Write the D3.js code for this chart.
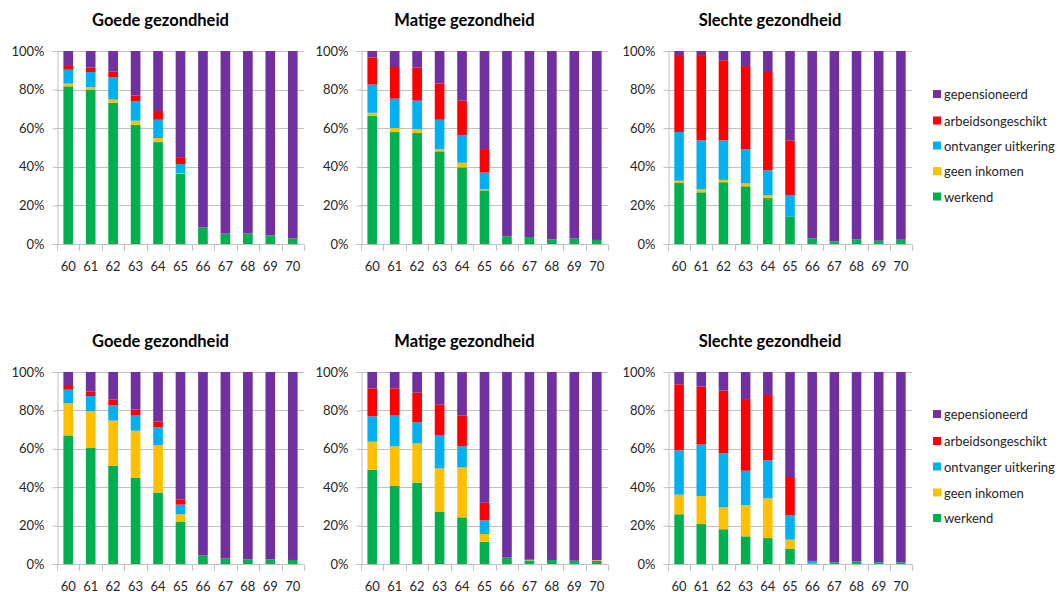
<!DOCTYPE html>
<html>
<head>
<meta charset="utf-8">
<script src="https://cdn.jsdelivr.net/npm/d3@7"></script>
<style>
  html, body { margin: 0; padding: 0; background: #ffffff; }
  svg { display: block; font-family: Carlito, Lato, "Open Sans", sans-serif; }
</style>
</head>
<body>
<svg id="chart" width="1063" height="592"></svg>
<script>
// Leeftijden op de x-as
const ages = ["60", "61", "62", "63", "64", "65", "66", "67", "68", "69", "70"];

// Reeksen, van onder naar boven gestapeld
const seriesNames = ["werkend", "geen inkomen", "ontvanger uitkering", "arbeidsongeschikt", "gepensioneerd"];
const seriesColors = ["#00B050", "#FFC000", "#00B0F0", "#FF0000", "#7030A0"];

const panelTitles = ["Goede gezondheid", "Matige gezondheid", "Slechte gezondheid"];
const yTicks = [0, 20, 40, 60, 80, 100];

// Percentages per reeks (werkend, geen inkomen, uitkering, arbeidsongeschikt, gepensioneerd)
const goedeBoven = [
  [81.7, 80.0, 73.2, 61.8, 52.8, 36.3, 8.6, 5.4, 5.4, 4.5, 2.9],
  [1.4, 1.3, 1.6, 2.1, 2.1, 0.3, 0, 0, 0, 0, 0],
  [7.2, 7.8, 11.6, 10.0, 9.5, 4.8, 0, 0, 0, 0, 0],
  [2.4, 2.3, 2.9, 3.1, 4.5, 3.6, 0, 0, 0, 0, 0],
  [7.3, 8.6, 10.7, 23.0, 31.1, 55.0, 91.4, 94.6, 94.6, 95.5, 97.1]
];
const matigeBoven = [
  [66.3, 58.0, 57.5, 48.0, 39.7, 27.8, 4.0, 3.6, 2.4, 2.8, 2.1],
  [1.7, 2.1, 2.1, 1.2, 2.4, 0.5, 0, 0, 0, 0, 0],
  [14.6, 15.2, 14.7, 15.2, 14.4, 8.7, 0, 0, 0, 0, 0],
  [14.1, 16.4, 17.1, 18.8, 17.8, 12.2, 0, 0, 0, 0, 0],
  [3.3, 8.3, 8.6, 16.8, 25.7, 50.8, 96.0, 96.4, 97.6, 97.2, 97.9]
];
const slechteBoven = [
  [31.6, 26.8, 32.0, 29.9, 23.8, 14.3, 2.9, 1.4, 2.4, 1.7, 2.2],
  [1.2, 1.5, 1.2, 1.5, 1.4, 0, 0, 0, 0, 0, 0],
  [25.2, 25.4, 20.5, 17.7, 13.0, 11.1, 0, 0, 0, 0, 0],
  [39.9, 44.2, 41.5, 43.1, 50.9, 28.3, 0, 0, 0, 0, 0],
  [2.1, 2.1, 4.8, 7.8, 10.9, 46.3, 97.1, 98.6, 97.6, 98.3, 97.8]
];
const goedeOnder = [
  [67.0, 60.4, 51.2, 45.0, 37.2, 21.9, 4.5, 2.8, 2.4, 2.4, 2.1],
  [16.7, 19.1, 23.5, 24.4, 24.8, 4.0, 0, 0, 0, 0, 0],
  [7.1, 8.0, 7.9, 7.9, 9.2, 5.0, 0, 0, 0, 0, 0],
  [2.4, 2.4, 3.0, 3.1, 3.1, 2.8, 0, 0, 0, 0, 0],
  [6.8, 10.1, 14.4, 19.6, 25.7, 66.3, 95.5, 97.2, 97.6, 97.6, 97.9]
];
const matigeOnder = [
  [49.1, 40.8, 42.4, 27.1, 24.3, 11.6, 3.3, 1.9, 2.1, 1.7, 1.6],
  [14.6, 20.5, 20.4, 22.7, 26.0, 4.0, 0, 0.2, 0, 0, 0.4],
  [13.2, 16.0, 11.0, 17.4, 11.0, 7.1, 0, 0, 0, 0, 0],
  [14.6, 14.2, 15.4, 16.0, 16.0, 9.2, 0, 0.2, 0, 0, 0],
  [8.5, 8.5, 10.8, 16.8, 22.7, 68.1, 96.7, 97.7, 97.9, 98.3, 98.0]
];
const slechteOnder = [
  [25.9, 20.8, 18.1, 14.4, 13.5, 8.0, 0.3, 0.9, 1.4, 0.9, 0.9],
  [10.2, 14.6, 11.4, 16.2, 20.7, 4.7, 0, 0, 0, 0, 0],
  [23.1, 26.8, 28.1, 18.0, 19.8, 12.6, 1.3, 0, 0, 0, 0],
  [34.4, 30.2, 32.7, 37.3, 34.0, 20.0, 0, 0, 0, 0, 0],
  [6.4, 7.6, 9.7, 14.1, 12.0, 54.7, 98.4, 99.1, 98.6, 99.1, 99.1]
];

const rows = [
  [goedeBoven, matigeBoven, slechteBoven],
  [goedeOnder, matigeOnder, slechteOnder]
];

// Plotgebieden
const colX = [[57, 304], [361, 608], [668, 912]];
const rowY = [[51, 244], [372, 564]];
const legendRowsY = [[94, 120.5, 145.5, 171, 196.5], [414, 441, 466.5, 492.5, 518]];

const gridColor = "#c0c0c0";
const textColor = "#262626";

const svg = d3.select("#chart");

function drawPanel(values, title, xr, yr) {
  const g = svg.append("g");
  const x = d3.scaleBand().domain(ages).range(xr).padding(0);
  const y = d3.scaleLinear().domain([0, 100]).range([yr[1], yr[0]]);

  // rasterlijnen
  g.selectAll("line.grid").data(yTicks.filter(t => t > 0)).join("line")
    .attr("x1", xr[0]).attr("x2", xr[1])
    .attr("y1", d => Math.round(y(d)) + 0.5).attr("y2", d => Math.round(y(d)) + 0.5)
    .attr("stroke", gridColor).attr("stroke-width", 1);

  // y-as met streepjes
  const yAxis = d3.axisLeft(y).tickValues(yTicks).tickSize(5).tickPadding(8)
    .tickFormat(d => d + "%");
  const ya = g.append("g").attr("transform", `translate(${xr[0] + 0.5},0)`).call(yAxis);
  ya.select(".domain").attr("stroke", gridColor);
  ya.selectAll(".tick line").attr("stroke", gridColor);
  ya.selectAll(".tick text").attr("fill", textColor).attr("font-size", 13)
    .attr("font-family", "Lato, sans-serif");

  // gestapelde staven
  const table = ages.map((a, i) => {
    const r = { age: a };
    seriesNames.forEach((s, k) => { r[s] = values[k][i]; });
    return r;
  });
  const stacked = d3.stack().keys(seriesNames)(table);
  const barW = x.bandwidth() * 0.43;
  g.selectAll("g.series").data(stacked).join("g")
    .attr("fill", (d, k) => seriesColors[k])
    .selectAll("rect").data(d => d).join("rect")
    .attr("x", d => x(d.data.age) + (x.bandwidth() - barW) / 2)
    .attr("width", barW)
    .attr("y", d => y(d[1]))
    .attr("height", d => Math.max(0, y(d[0]) - y(d[1])));

  // x-as met streepjes tussen de categorieën
  const xa = g.append("g").attr("transform", `translate(0,${yr[1] + 0.5})`);
  xa.append("line").attr("x1", xr[0]).attr("x2", xr[1]).attr("stroke", gridColor);
  const bounds = ages.map(a => x(a)).concat([xr[1]]);
  xa.selectAll("line.tk").data(bounds).join("line")
    .attr("x1", d => Math.round(d) + 0.5).attr("x2", d => Math.round(d) + 0.5)
    .attr("y1", 0).attr("y2", 6).attr("stroke", gridColor);
  xa.selectAll("text").data(ages).join("text")
    .attr("x", d => x(d) + x.bandwidth() / 2)
    .attr("y", 26)
    .attr("text-anchor", "middle")
    .attr("fill", textColor).attr("font-size", 13)
    .attr("font-family", "Lato, sans-serif")
    .text(d => d);

  // titel
  svg.append("text")
    .attr("x", (xr[0] + xr[1]) / 2 - 20)
    .attr("y", yr[0] - 25)
    .attr("text-anchor", "middle")
    .attr("font-family", "Lato, sans-serif")
    .attr("font-weight", "bold").attr("font-size", 16.5)
    .attr("fill", "#000")
    .text(title);
}

function drawLegend(ys) {
  const items = seriesNames.map((s, k) => ({ name: s, color: seriesColors[k] })).reverse();
  const lg = svg.append("g");
  items.forEach((it, i) => {
    lg.append("rect").attr("x", 933).attr("y", ys[i] - 4).attr("width", 8).attr("height", 8)
      .attr("fill", it.color);
    lg.append("text").attr("x", 944).attr("y", ys[i])
      .attr("dominant-baseline", "central")
      .attr("font-family", "Lato, sans-serif").attr("font-size", 13)
      .attr("fill", textColor).text(it.name);
  });
}

rows.forEach((panels, r) => {
  panels.forEach((vals, c) => drawPanel(vals, panelTitles[c], colX[c], rowY[r]));
  drawLegend(legendRowsY[r]);
});
</script>
</body>
</html>
